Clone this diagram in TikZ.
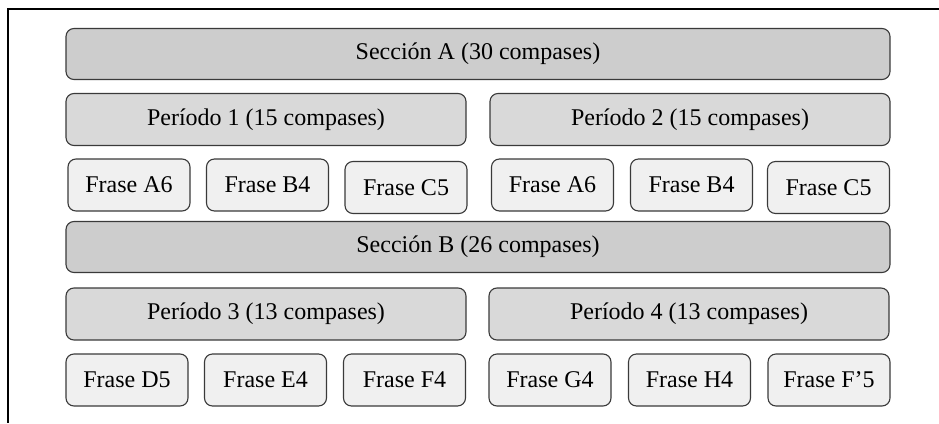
\documentclass[tikz,border=0pt]{standalone}
\usepackage{fontspec}
\setmainfont{Liberation Serif}
\usepackage{xcolor}
\definecolor{seccion}{HTML}{CDCDCD}
\definecolor{periodo}{HTML}{D9D9D9}
\definecolor{frase}{HTML}{F0F0F0}
\definecolor{borde}{HTML}{3A3A3A}

\begin{document}
\begin{tikzpicture}
    \tikzset{
        x=1pt,
        y=-1pt,
        caja/.style={draw=borde,line width=1.1pt,rounded corners=8pt,
            inner sep=0pt,outer sep=0pt,font=\fontsize{24}{28}\selectfont},
        seccionbox/.style={caja,fill=seccion,minimum width=824pt,minimum height=51pt},
        periodobox/.style={caja,fill=periodo,minimum width=400pt,minimum height=52pt},
        frasebox/.style={caja,fill=frase,minimum width=122pt,minimum height=52pt}
    }
    \useasboundingbox (0,0) rectangle (939,423);
    % frame
    \coordinate (m0) at (8,9);
    \coordinate (m1) at (939,9);
    \coordinate (m2) at (8,423);
    \draw[line width=1.6pt] (m1) -- (m0) -- (m2);
    % secciones
    \node[seccionbox] (secA) at (478,54) {Sección A (30 compases)};
    \node[seccionbox] (secB) at (478,247) {Sección B (26 compases)};
    % periodos
    \foreach \x/\y/\n/\t in {
        266/119.5/per1/Período 1 (15 compases),
        690/119.5/per2/Período 2 (15 compases),
        266/314/per3/Período 3 (13 compases),
        689/314/per4/Período 4 (13 compases)
    }
        \node[periodobox] (\n) at (\x,\y) {\t};
    % frases
    \foreach \x/\y/\n/\t in {
        129/185/fA1/Frase A6,
        267.5/185/fB1/Frase B4,
        406/187.5/fC1/Frase C5,
        552.5/185/fA2/Frase A6,
        691.5/185/fB2/Frase B4,
        828.5/187.5/fC2/Frase C5,
        127/380/fD/Frase D5,
        265.5/380/fE/Frase E4,
        404.5/380/fF/Frase F4,
        550/380/fG/Frase G4,
        689.5/380/fH/Frase H4,
        829/380/fF2/Frase F’5
    }
        \node[frasebox] (\n) at (\x,\y) {\t};
\end{tikzpicture}
\end{document}
